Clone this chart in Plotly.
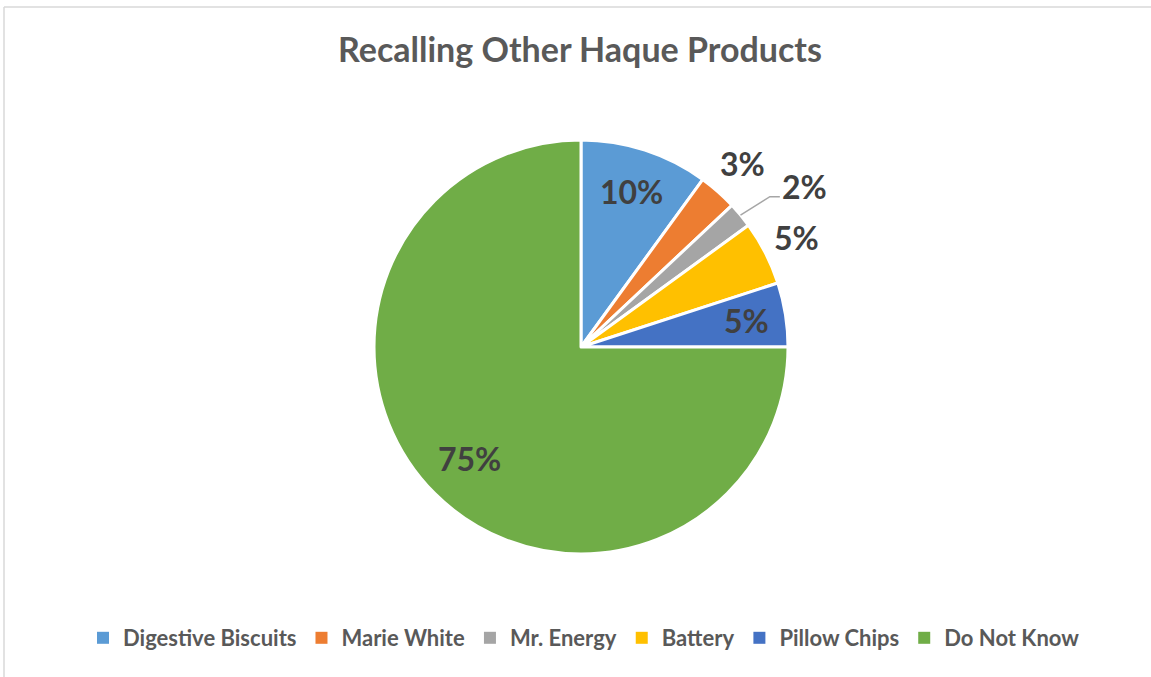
import math
import plotly.graph_objects as go

categories = ["Digestive Biscuits", "Marie White", "Mr. Energy", "Battery", "Pillow Chips", "Do Not Know"]
values = [10, 3, 2, 5, 5, 75]
colors = ["#5B9BD5", "#ED7D31", "#A5A5A5", "#FFC000", "#4472C4", "#70AD47"]
# placement of each percentage label: fraction of pie radius and angular nudge (deg), as in the reference
label_radius = [0.79, 1.18, 1.33, 1.17, 0.81, 0.76]
label_nudge = [0, 0, 4, 0, 0, 0]

W, H = 1151, 677
cx, cy, r = 581, 347, 207

fig = go.Figure(go.Pie(
    labels=categories,
    values=values,
    sort=False,
    direction="clockwise",
    rotation=0,
    marker=dict(colors=colors, line=dict(color="white", width=3)),
    textinfo="none",
    showlegend=False,
    domain=dict(x=[(cx - r) / W, (cx + r) / W], y=[1 - (cy + r) / H, 1 - (cy - r) / H]),
    hoverinfo="label+percent",
))

# legend entries (square swatches like the reference)
for cat, col in zip(categories, colors):
    fig.add_trace(go.Scatter(x=[None], y=[None], mode="markers", name=cat,
                             marker=dict(symbol="square", size=12, color=col),
                             showlegend=True, hoverinfo="skip"))

total = sum(values)
annotations = []
shapes = []
cum = 0
for cat, v, f, nd in zip(categories, values, label_radius, label_nudge):
    mid = (cum + v / 2) / total * 2 * math.pi
    cum += v
    la = mid + math.radians(nd)
    px = cx + f * r * math.sin(la)
    py = cy - f * r * math.cos(la)
    annotations.append(dict(
        x=px / W, y=1 - py / H, xref="paper", yref="paper",
        text=f"<b>{round(100 * v / total)}%</b>", showarrow=False,
        xanchor="center", yanchor="middle",
        font=dict(family="Lato", size=32, color="#404040"),
    ))
    if f > 1.25:
        # leader line from slice edge to the label
        ex = cx + 1.0 * r * math.sin(mid)
        ey = cy - 1.0 * r * math.cos(mid)
        kx, ky = px - 35, py + 10
        shapes.append(dict(type="path", xref="paper", yref="paper",
                           path=f"M {ex / W},{1 - ey / H} L {kx / W},{1 - ky / H} L {(kx + 10) / W},{1 - ky / H}",
                           line=dict(color="#A6A6A6", width=1.5)))

shapes += [
    dict(type="line", xref="paper", yref="paper", x0=4 / W, x1=1, y0=1 - 7 / H, y1=1 - 7 / H,
         line=dict(color="#D9D9D9", width=1.5)),
    dict(type="line", xref="paper", yref="paper", x0=4 / W, x1=4 / W, y0=0, y1=1 - 7 / H,
         line=dict(color="#D9D9D9", width=1.5)),
]

fig.update_layout(
    width=W, height=H,
    margin=dict(l=0, r=0, t=0, b=0),
    paper_bgcolor="white",
    plot_bgcolor="white",
    xaxis=dict(visible=False),
    yaxis=dict(visible=False),
    title=dict(text="<b>Recalling Other Haque Products</b>", x=580 / W, xanchor="center",
               y=1 - 50 / H, yanchor="middle", yref="paper",
               font=dict(family="Lato", size=34, color="#595959")),
    legend=dict(orientation="h", x=584 / W, xanchor="center", y=1 - 638 / H, yanchor="middle",
                font=dict(family="Lato", size=22, color="#595959", weight="bold"), traceorder="normal",
                itemclick=False, itemwidth=30),
    annotations=annotations,
    shapes=shapes,
)

fig.write_html("out.html", config={"displayModeBar": False},
               post_script="document.body.style.margin='0px';")
